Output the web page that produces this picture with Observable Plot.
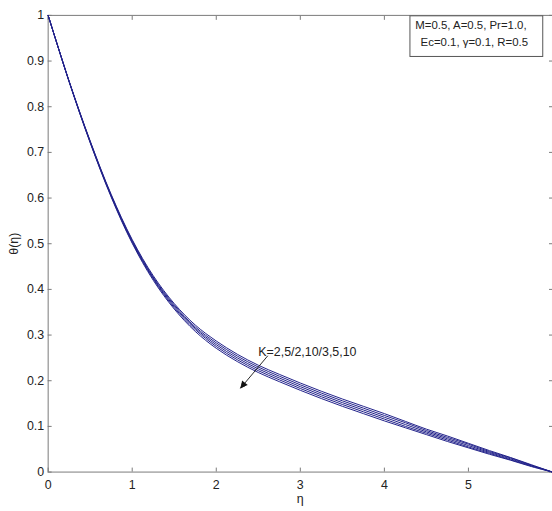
<!DOCTYPE html>
<html>
<head>
<meta charset="utf-8">
<script src="https://cdn.jsdelivr.net/npm/d3@7"></script>
<script src="https://cdn.jsdelivr.net/npm/@observablehq/plot@0.6"></script>
<style>
  html, body { margin: 0; padding: 0; background: #fff; overflow: hidden; }
</style>
</head>
<body>
<div id="chart"></div>
<script>
// ---- data ----
const eta = [0, 0.25, 0.5, 0.75, 1, 1.25, 1.5, 1.75, 2, 2.25, 2.5, 2.75, 3, 3.25, 3.5, 3.75, 4, 4.25, 4.5, 4.75, 5, 5.25, 5.5, 5.75, 6];
const kLabels = ["2", "5/2", "10/3", "5", "10"];
const thetaK2   = [1.000, 0.856, 0.725, 0.608, 0.509, 0.430, 0.369, 0.322, 0.287, 0.258, 0.234, 0.214, 0.195, 0.177, 0.160, 0.144, 0.128, 0.111, 0.094, 0.079, 0.063, 0.047, 0.032, 0.016, 0.000];
const thetaK5_2 = [1.000, 0.855, 0.724, 0.606, 0.507, 0.427, 0.366, 0.318, 0.283, 0.254, 0.230, 0.210, 0.191, 0.173, 0.156, 0.140, 0.124, 0.108, 0.091, 0.076, 0.061, 0.045, 0.031, 0.015, 0.000];
const thetaK10_3= [1.000, 0.855, 0.723, 0.605, 0.505, 0.425, 0.363, 0.315, 0.279, 0.250, 0.226, 0.206, 0.187, 0.169, 0.152, 0.136, 0.120, 0.104, 0.088, 0.073, 0.058, 0.043, 0.029, 0.014, 0.000];
const thetaK5   = [1.000, 0.855, 0.722, 0.604, 0.503, 0.423, 0.360, 0.312, 0.275, 0.246, 0.222, 0.202, 0.183, 0.165, 0.148, 0.132, 0.116, 0.100, 0.085, 0.070, 0.055, 0.041, 0.027, 0.013, 0.000];
const thetaK10  = [1.000, 0.854, 0.721, 0.602, 0.501, 0.420, 0.357, 0.308, 0.271, 0.242, 0.218, 0.198, 0.179, 0.161, 0.144, 0.128, 0.112, 0.097, 0.082, 0.067, 0.053, 0.039, 0.026, 0.012, 0.000];

const xTicks = [0, 1, 2, 3, 4, 5];
const yTicks = [0, 0.1, 0.2, 0.3, 0.4, 0.5, 0.6, 0.7, 0.8, 0.9, 1];
const xLabel = "η";
const yLabel = "θ(η)";

const annotationText = ["K=2,5/2,10/3,5,10"];
const annotationAt = { eta: [2.5], theta: [0.262] };
const arrowFrom = { eta: [2.61], theta: [0.254] };
const arrowTo = { eta: [2.29], theta: [0.184] };
const arrowHeadAt = { eta: [2.325], theta: [0.192] };

const paramLines = ["M=0.5, A=0.5, Pr=1.0,", "Ec=0.1, γ=0.1, R=0.5"];
const paramBox = { eta1: [4.31], eta2: [5.89], theta1: [0.909], theta2: [0.998] };
const paramLineAt = { eta: [5.03, 5.07], theta: [0.979, 0.940] };

// ---- build table ----
const series = [thetaK2, thetaK5_2, thetaK10_3, thetaK5, thetaK10];
const rows = series.flatMap((vals, i) => vals.map((v, j) => ({ eta: eta[j], theta: v, K: kLabels[i] })));

const fmt = d3.format("~g");
const axisColor = "#7a7a7a";

const chart = Plot.plot({
  width: 556,
  height: 511,
  marginLeft: 48,
  marginRight: 0,
  marginTop: 15,
  marginBottom: 36,
  style: { fontFamily: "'Liberation Sans', Arial, sans-serif", fontSize: "12.5px", color: "#222", background: "#fff" },
  x: { domain: [0, 6] },
  y: { domain: [0, 1] },
  marks: [
    Plot.frame({ stroke: axisColor }),
    Plot.axisX({ ticks: xTicks, tickSize: -4, tickPadding: 12, tickFormat: fmt, stroke: axisColor, fill: "#222",
                 label: xLabel, labelAnchor: "center", labelArrow: "none", labelOffset: 31 }),
    Plot.axisX({ anchor: "top", ticks: xTicks, tickSize: -4, tickFormat: () => "", stroke: axisColor, label: null }),
    Plot.axisY({ ticks: yTicks, tickSize: -4, tickPadding: 8, tickFormat: fmt, stroke: axisColor, fill: "#222",
                 label: yLabel, labelAnchor: "center", labelArrow: "none", labelOffset: 39 }),
    Plot.axisY({ anchor: "right", ticks: yTicks, tickSize: -4, tickFormat: () => "", stroke: axisColor, label: null }),
    Plot.line(rows, { x: "eta", y: "theta", z: "K", stroke: "#22228a", strokeWidth: 1, curve: "catmull-rom" }),
    Plot.arrow([0], { x1: () => arrowFrom.eta[0], y1: () => arrowFrom.theta[0], x2: () => arrowTo.eta[0], y2: () => arrowTo.theta[0],
                      stroke: "#111", strokeWidth: 0.9, headLength: 9, headAngle: 45 }),
    Plot.dot([0], { x: () => arrowHeadAt.eta[0], y: () => arrowHeadAt.theta[0], symbol: "triangle2", r: 3.5,
                    rotate: 219, fill: "#111", stroke: "none" }),
    Plot.text(annotationText, { x: () => annotationAt.eta[0], y: () => annotationAt.theta[0], text: d => d,
                                textAnchor: "start", fontSize: 12.5, fill: "#222" }),
    Plot.rect([0], { x1: () => paramBox.eta1[0], x2: () => paramBox.eta2[0], y1: () => paramBox.theta1[0], y2: () => paramBox.theta2[0],
                     fill: "#fff", stroke: "#555", strokeWidth: 1 }),
    Plot.text(paramLines, { x: (d, i) => paramLineAt.eta[i], y: (d, i) => paramLineAt.theta[i], text: d => d,
                            textAnchor: "middle", fontSize: 11.5, fill: "#222" })
  ]
});
document.getElementById("chart").appendChild(chart);
</script>
</body>
</html>
